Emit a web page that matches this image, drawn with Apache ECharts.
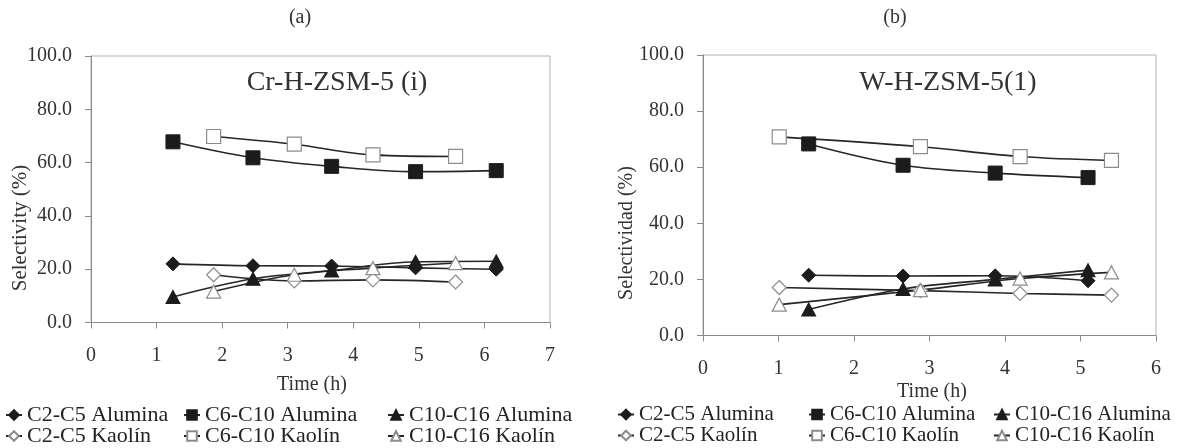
<!DOCTYPE html>
<html>
<head>
<meta charset="utf-8">
<script src="https://cdn.jsdelivr.net/npm/echarts@6/dist/echarts.min.js"></script>
<style>
  html, body { margin: 0; padding: 0; background: #fff; }
  #chart { width: 1181px; height: 448px; }
</style>
</head>
<body>
<div id="chart"></div>
<script>
// (a) Cr-H-ZSM-5 (i)
const timeAluminaCr = [1.25, 2.47, 3.67, 4.95, 6.18];
const timeKaolinCr = [1.87, 3.10, 4.30, 5.56];
const c2c5AluminaCr = [22.0, 21.3, 21.2, 20.5, 20.0];
const c6c10AluminaCr = [67.8, 61.8, 58.6, 56.6, 57.0];
const c10c16AluminaCr = [9.6, 16.4, 19.5, 22.8, 23.0];
const c2c5KaolinCr = [17.9, 15.6, 16.0, 15.2];
const c6c10KaolinCr = [69.8, 66.9, 62.9, 62.3];
const c10c16KaolinCr = [11.6, 17.9, 20.4, 22.3];

// (b) W-H-ZSM-5(1)
const timeAluminaW = [1.40, 2.65, 3.87, 5.10];
const timeKaolinW = [1.01, 2.88, 4.20, 5.41];
const c2c5AluminaW = [21.5, 21.2, 21.3, 19.5];
const c6c10AluminaW = [68.3, 60.7, 57.9, 56.3];
const c10c16AluminaW = [9.3, 16.6, 20.0, 23.3];
const c2c5KaolinW = [17.1, 16.0, 15.0, 14.4];
const c6c10KaolinW = [70.8, 67.3, 63.8, 62.4];
const c10c16KaolinW = [11.0, 16.2, 20.3, 22.5];

const yTicks = [0, 20, 40, 60, 80, 100];

const FONT = "Liberation Serif";
const chart = echarts.init(document.getElementById("chart"));

const pts = (xs, ys) => xs.map((x, i) => [x, ys[i]]);

const mk = (name, xs, ys, symbol, filled, idx) => ({
  name,
  type: "line",
  xAxisIndex: idx,
  yAxisIndex: idx,
  data: pts(xs, ys),
  smooth: 0.35,
  symbol,
  symbolSize: symbol === "triangle" ? [14, 13] : 14,
  lineStyle: { color: "#262626", width: 1.6 },
  itemStyle: filled
    ? { color: "#1c1c1c", borderColor: "#1c1c1c", borderWidth: 1 }
    : { color: "#fff", borderColor: "#8c8c8c", borderWidth: 1.2 },
  emphasis: { disabled: true },
});

const xAxisBase = (max, margin) => ({
  type: "value",
  min: 0,
  max,
  interval: 1,
  axisLine: { show: true, lineStyle: { color: "#8a8a8a" } },
  axisTick: { show: true, length: 6, lineStyle: { color: "#8a8a8a" } },
  axisLabel: { margin, fontFamily: FONT, fontSize: 20, color: "#333" },
  splitLine: { show: false },
});

const yAxisBase = () => ({
  type: "value",
  min: yTicks[0],
  max: yTicks[yTicks.length - 1],
  interval: 20,
  axisLine: { show: true, lineStyle: { color: "#8a8a8a" } },
  axisTick: { show: true, length: 6, lineStyle: { color: "#8a8a8a" } },
  axisLabel: {
    margin: 19,
    fontFamily: FONT,
    fontSize: 20,
    color: "#333",
    formatter: (v) => v.toFixed(1),
  },
  splitLine: { show: false },
});

// one legend per entry so the 3x2 layout lines up exactly
const legendItem = (left, top, name, size) => ({
  left,
  top,
  padding: 0,
  itemWidth: 16,
  itemHeight: 12,
  data: [name],
  selectedMode: false,
  textStyle: { fontFamily: FONT, fontSize: size, color: "#222" },
});

const txt = (x, y, text, size, rotation) => ({
  type: "text",
  x,
  y,
  rotation: rotation || 0,
  style: {
    text,
    fontFamily: FONT,
    fontSize: size,
    fill: "#333",
    textAlign: "center",
    textVerticalAlign: "middle",
  },
});

const row1 = 404;
const row2 = 425;
const legendCols = [
  { lefts: [5, 183, 387], size: 22 },
  { lefts: [617, 808, 993], size: 21 },
];
const aluminaNames = ["C2-C5 Alumina", "C6-C10 Alumina", "C10-C16 Alumina"];
const kaolinNames = ["C2-C5 Kaolín", "C6-C10 Kaolín", "C10-C16 Kaolín"];

const legends = [];
legendCols.forEach((col) => {
  col.lefts.forEach((left, i) => {
    legends.push(legendItem(left, row1, aluminaNames[i], col.size));
    legends.push(legendItem(left, row2, kaolinNames[i], col.size));
  });
});

chart.setOption({
  animation: false,
  backgroundColor: "#fff",
  textStyle: { fontFamily: FONT },
  grid: [
    { left: 91, top: 56, width: 459, height: 266.5, show: true, borderColor: "#b5b5b5", borderWidth: 1 },
    { left: 703, top: 55, width: 453, height: 280.5, show: true, borderColor: "#b5b5b5", borderWidth: 1 },
  ],
  xAxis: [
    { ...xAxisBase(7, 23), gridIndex: 0 },
    { ...xAxisBase(6, 23), gridIndex: 1 },
  ],
  yAxis: [
    { ...yAxisBase(), gridIndex: 0 },
    { ...yAxisBase(), gridIndex: 1 },
  ],
  legend: legends,
  graphic: [
    txt(300, 18, "(a)", 20),
    txt(895, 18, "(b)", 20),
    txt(337, 83, "Cr-H-ZSM-5 (i)", 28),
    txt(948, 83, "W-H-ZSM-5(1)", 28),
    txt(20, 228, "Selectivity (%)", 21, Math.PI / 2),
    txt(627, 233, "Selectividad (%)", 20, Math.PI / 2),
    txt(312, 385, "Time (h)", 20),
    txt(932, 392, "Time (h)", 20),
  ],
  series: [
    mk(aluminaNames[0], timeAluminaCr, c2c5AluminaCr, "diamond", true, 0),
    mk(aluminaNames[1], timeAluminaCr, c6c10AluminaCr, "rect", true, 0),
    mk(aluminaNames[2], timeAluminaCr, c10c16AluminaCr, "triangle", true, 0),
    mk(kaolinNames[0], timeKaolinCr, c2c5KaolinCr, "diamond", false, 0),
    mk(kaolinNames[1], timeKaolinCr, c6c10KaolinCr, "rect", false, 0),
    mk(kaolinNames[2], timeKaolinCr, c10c16KaolinCr, "triangle", false, 0),

    mk(aluminaNames[0], timeAluminaW, c2c5AluminaW, "diamond", true, 1),
    mk(aluminaNames[1], timeAluminaW, c6c10AluminaW, "rect", true, 1),
    mk(aluminaNames[2], timeAluminaW, c10c16AluminaW, "triangle", true, 1),
    mk(kaolinNames[0], timeKaolinW, c2c5KaolinW, "diamond", false, 1),
    mk(kaolinNames[1], timeKaolinW, c6c10KaolinW, "rect", false, 1),
    mk(kaolinNames[2], timeKaolinW, c10c16KaolinW, "triangle", false, 1),
  ],
});
</script>
</body>
</html>
